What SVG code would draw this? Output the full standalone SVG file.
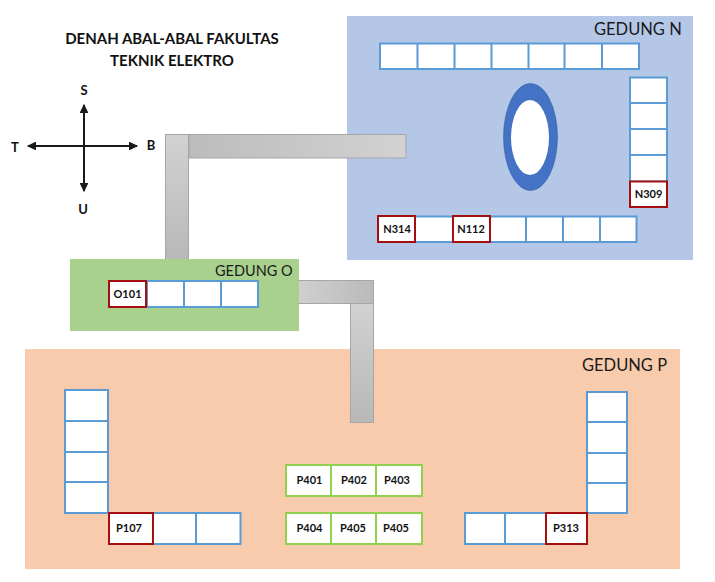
<svg xmlns="http://www.w3.org/2000/svg" width="715" height="582" viewBox="0 0 715 582">
<style>
text{font-family:"Lato","Liberation Sans",sans-serif;fill:#111}
.title{font-size:15px;font-weight:700;text-anchor:middle}
.b{font-size:16.500px;fill:#1a1a1a}
.c{font-size:13px;font-weight:700;text-anchor:middle}
.l{font-size:11px;font-weight:700;text-anchor:middle}
.r{fill:#fff;stroke:#5B9BD5;stroke-width:2}
.g{fill:#fff;stroke:#92D050;stroke-width:2}
.d{fill:#fff;stroke:#A50E0E;stroke-width:2}
.k{fill:none;stroke:#5B9BD5;stroke-width:2}
.cor{stroke:#a6a6a6;stroke-width:1}
.ar{stroke:#1a1a1a;stroke-width:2;fill:none;marker-start:url(#a);marker-end:url(#a)}
</style>
<defs>
<linearGradient id="gh" x1="0" x2="1" y1="0" y2="0"><stop offset="0" stop-color="#bcbcbc"/><stop offset="1" stop-color="#d2d2d2"/></linearGradient>
<linearGradient id="ghr" x1="0" x2="1" y1="0" y2="0"><stop offset="0" stop-color="#d0d0d0"/><stop offset="1" stop-color="#bababa"/></linearGradient>
<linearGradient id="gv" x1="0" x2="0" y1="0" y2="1"><stop offset="0" stop-color="#d2d2d2"/><stop offset="1" stop-color="#b8b8b8"/></linearGradient>
<marker id="a" markerWidth="5" markerHeight="4.400" refX="4" refY="2.200" orient="auto-start-reverse"><path d="M0 0L4.600 2.200L0 4.400Z" fill="#1a1a1a"/></marker>
</defs>

<g id="gedung-n">
<rect x="347" y="16" width="346" height="244" fill="#B4C7E7"/>
<text class="b" x="594" y="35">GEDUNG N</text>
<rect class="r" x="380" y="43.500" width="259" height="25.500"/>
<path class="k" d="M417.500 43.500V69M454.500 43.500V69M491.500 43.500V69M528.500 43.500V69M564.500 43.500V69M602 43.500V69"/>
<rect class="r" x="630" y="77.500" width="37" height="104"/>
<path class="k" d="M630 103H667M630 129H667M630 155H667"/>
<rect class="r" x="378.500" y="216.500" width="258" height="25.500"/>
<path class="k" d="M526 216.500V242M563 216.500V242M600 216.500V242"/>
<ellipse cx="530.500" cy="137" rx="27" ry="53.500" fill="#4472C4" stroke="#2F5597" stroke-width="0.500"/>
<ellipse cx="530" cy="137.500" rx="19" ry="37.500" fill="#fff"/>
</g>
<g id="n309"><rect class="d" x="630" y="181.500" width="37" height="25.500"/><text class="l" x="648.500" y="198">N309</text></g>
<g id="n314"><rect class="d" x="378" y="216" width="37" height="26"/><text class="l" x="397" y="233">N314</text></g>
<g id="n112"><rect class="d" x="453" y="216" width="37" height="26"/><text class="l" x="471" y="233">N112</text></g>

<g id="gedung-p">
<rect x="25" y="349" width="655" height="220" fill="#F8CBAD"/>
<text class="b" x="582" y="371">GEDUNG P</text>
<rect class="r" x="65" y="390" width="43" height="123"/>
<path class="k" d="M65 421H108M65 452H108M65 482H108"/>
<rect class="r" x="153" y="513" width="87.500" height="31"/>
<path class="k" d="M196 513V544"/>
<rect class="r" x="587" y="392" width="40" height="121"/>
<path class="k" d="M587 422H627M587 453H627M587 483H627"/>
<rect class="r" x="465" y="513" width="81" height="31"/>
<path class="k" d="M505 513V544"/>
</g>
<g id="p107"><rect class="d" x="109" y="513" width="44" height="31"/><text class="l" x="129" y="532">P107</text></g>
<g id="p313"><rect class="d" x="546" y="513" width="41" height="31"/><text class="l" x="566" y="532">P313</text></g>
<g id="p401"><rect class="g" x="286" y="465" width="45" height="31"/><text class="l" x="309.500" y="484">P401</text></g>
<g id="p402"><rect class="g" x="331" y="465" width="45" height="31"/><text class="l" x="354" y="484">P402</text></g>
<g id="p403"><rect class="g" x="376" y="465" width="46" height="31"/><text class="l" x="397" y="484">P403</text></g>
<g id="p404"><rect class="g" x="286" y="513" width="45" height="31"/><text class="l" x="309.500" y="532">P404</text></g>
<g id="p405a"><rect class="g" x="331" y="513" width="45" height="31"/><text class="l" x="353" y="532">P405</text></g>
<g id="p405b"><rect class="g" x="376" y="513" width="46" height="31"/><text class="l" x="396" y="532">P405</text></g>

<g id="connectors">
<rect class="cor" fill="url(#gv)" x="165.500" y="134.500" width="23" height="125"/>
<rect class="cor" fill="url(#gh)" x="189" y="134.500" width="217" height="23.500"/>
<rect class="cor" fill="url(#ghr)" x="297.500" y="280.500" width="76" height="23"/>
<rect class="cor" fill="url(#gv)" x="350.500" y="303.500" width="23" height="119"/>
<path class="ar" d="M84 105V191"/>
<path class="ar" d="M28 146H137"/>
</g>

<g id="gedung-o">
<rect x="70" y="259" width="229" height="72" fill="#A9D18E"/>
<text x="215" y="276" style="font-size:14.500px;fill:#1a1a1a">GEDUNG O</text>
<rect class="r" x="147" y="281" width="111" height="26"/>
<path class="k" d="M184 281V307M221 281V307"/>
</g>
<g id="o101"><rect class="d" x="109" y="281" width="37" height="26"/><text class="l" x="127.500" y="298">O101</text></g>

<g id="compass-labels">
<text class="title" x="172" y="44">DENAH ABAL-ABAL FAKULTAS</text>
<text class="title" x="172" y="66">TEKNIK ELEKTRO</text>
<text class="c" x="84" y="95">S</text>
<text class="c" x="15" y="152">T</text>
<text class="c" x="151" y="150">B</text>
<text class="c" x="83" y="214">U</text>
</g>
</svg>
